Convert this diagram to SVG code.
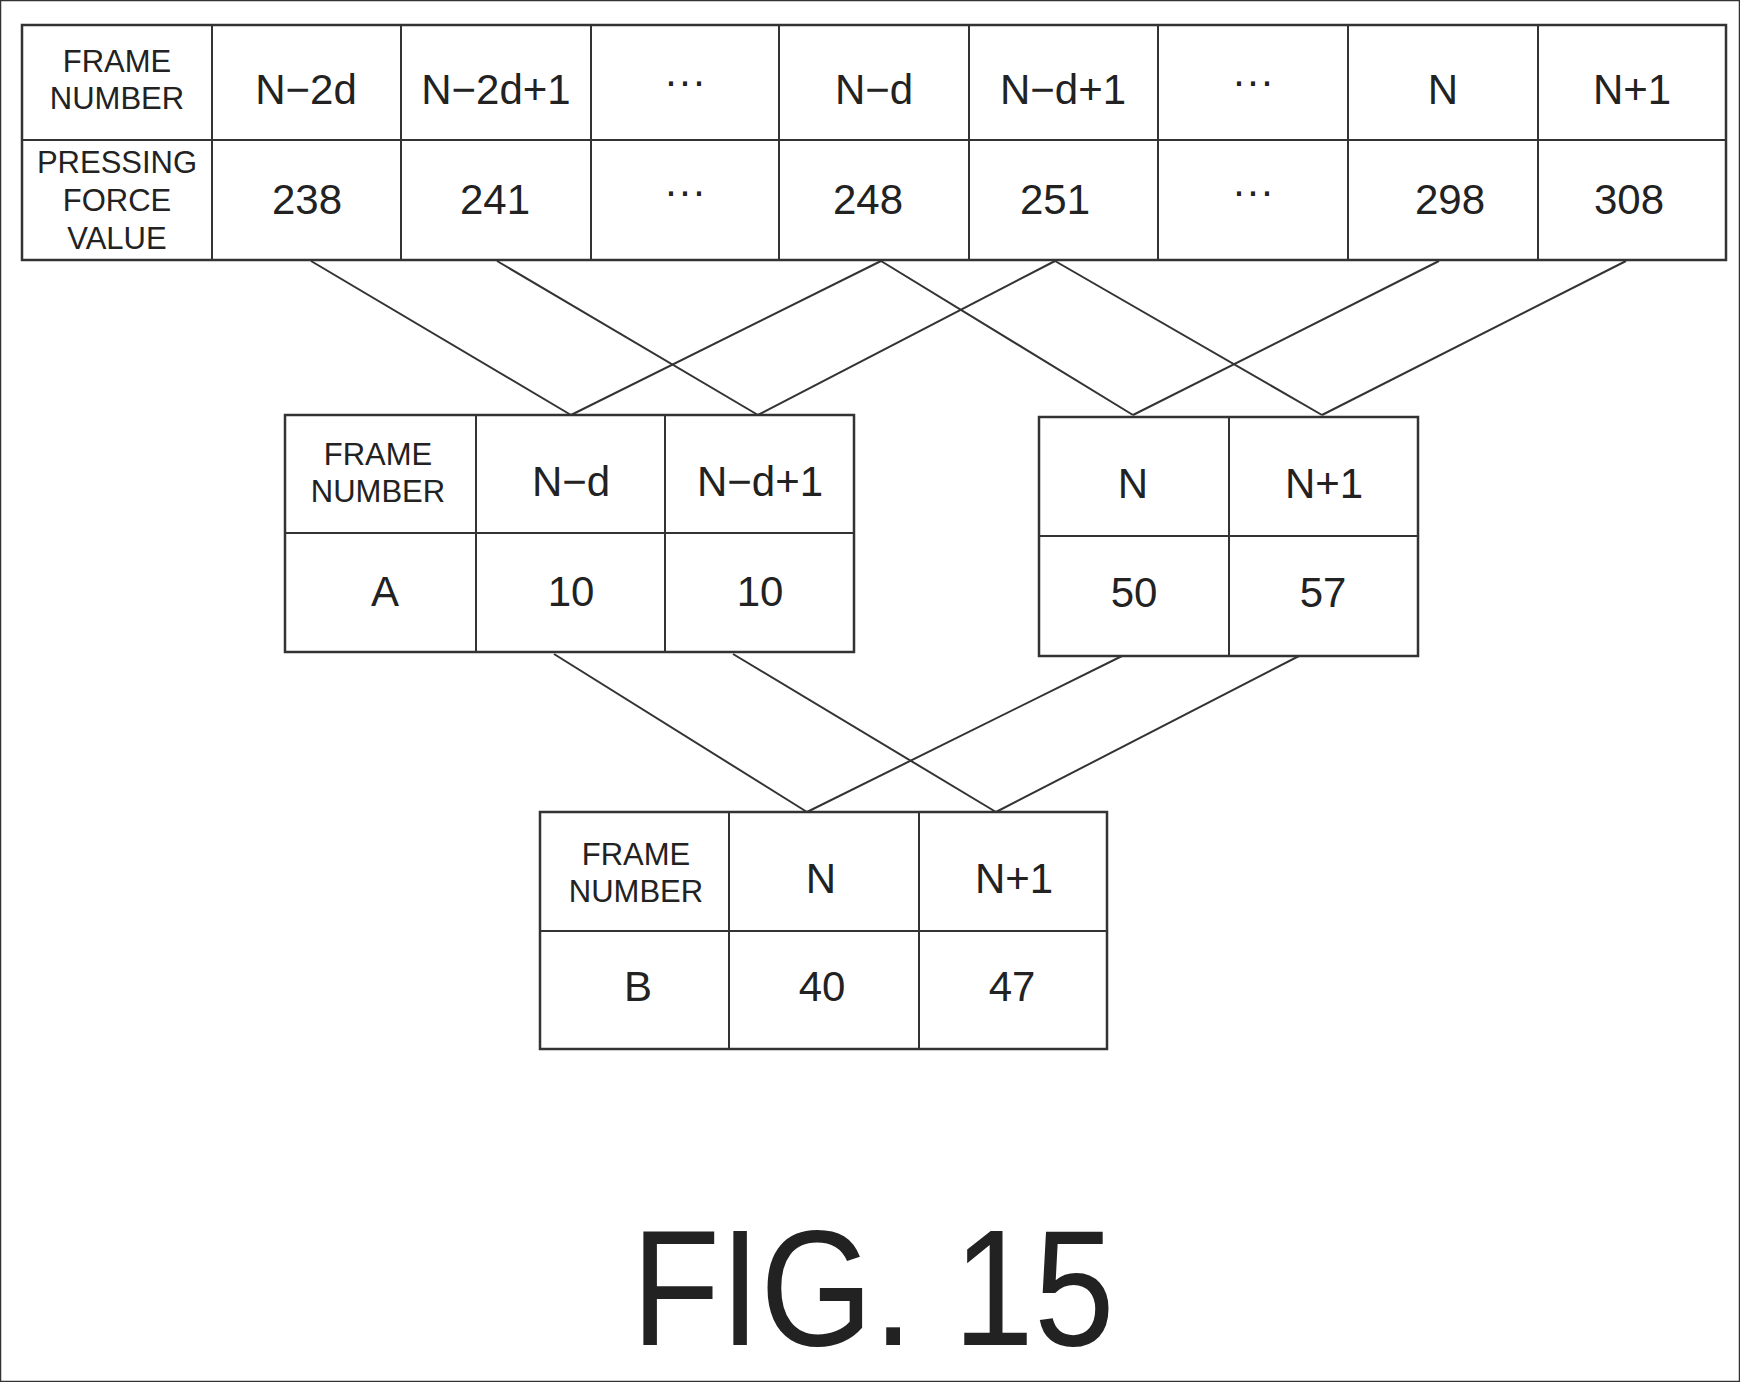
<svg xmlns="http://www.w3.org/2000/svg" width="1740" height="1382" viewBox="0 0 1740 1382">
<style>
rect,line.g{fill:none;stroke:#333;stroke-width:2.5}
line{stroke:#333;stroke-width:2}
text{font-family:"Liberation Sans",Arial,sans-serif;fill:#222;text-anchor:middle}
.v{font-size:42px}
.s{font-size:31px}
.f{font-size:165px}
</style>
<rect width="1740" height="1382" fill="#fff" stroke="none"/>
<g id="connectors">
<line x1="311" y1="261" x2="571" y2="415"/>
<line x1="497" y1="261" x2="758" y2="415"/>
<line x1="881" y1="261" x2="571" y2="415"/>
<line x1="881" y1="261" x2="1133" y2="415"/>
<line x1="1055" y1="261" x2="758" y2="415"/>
<line x1="1055" y1="261" x2="1322" y2="415"/>
<line x1="1439" y1="261" x2="1133" y2="415"/>
<line x1="1626" y1="261" x2="1322" y2="415"/>
<line x1="554" y1="654" x2="807" y2="812"/>
<line x1="733" y1="654" x2="996" y2="812"/>
<line x1="1122" y1="656" x2="807" y2="812"/>
<line x1="1299" y1="656" x2="996" y2="812"/>
</g>
<g id="top-table">
<rect x="22" y="25" width="1704" height="235"/>
<line x1="22" y1="140" x2="1726" y2="140"/>
<line x1="212" y1="25" x2="212" y2="260"/><line x1="401" y1="25" x2="401" y2="260"/>
<line x1="591" y1="25" x2="591" y2="260"/><line x1="779" y1="25" x2="779" y2="260"/>
<line x1="969" y1="25" x2="969" y2="260"/><line x1="1158" y1="25" x2="1158" y2="260"/>
<line x1="1348" y1="25" x2="1348" y2="260"/><line x1="1538" y1="25" x2="1538" y2="260"/>
<text class="s" x="117" y="72">FRAME</text><text class="s" x="117" y="109">NUMBER</text>
<text class="s" x="117" y="173">PRESSING</text><text class="s" x="117" y="211">FORCE</text><text class="s" x="117" y="249">VALUE</text>
<text class="v" x="306" y="104">N−2d</text><text class="v" x="496" y="104">N−2d+1</text><text class="v" x="685" y="95">···</text>
<text class="v" x="874" y="104">N−d</text><text class="v" x="1063" y="104">N−d+1</text><text class="v" x="1253" y="95">···</text>
<text class="v" x="1443" y="104">N</text><text class="v" x="1632" y="104">N+1</text>
<text class="v" x="307" y="214">238</text><text class="v" x="495" y="214">241</text><text class="v" x="685" y="205">···</text>
<text class="v" x="868" y="214">248</text><text class="v" x="1055" y="214">251</text><text class="v" x="1253" y="205">···</text>
<text class="v" x="1450" y="214">298</text><text class="v" x="1629" y="214">308</text>
</g>
<g id="table-a">
<rect x="285" y="415" width="569" height="237"/>
<line x1="285" y1="533" x2="854" y2="533"/>
<line x1="476" y1="415" x2="476" y2="652"/><line x1="665" y1="415" x2="665" y2="652"/>
<text class="s" x="378" y="465">FRAME</text><text class="s" x="378" y="502">NUMBER</text>
<text class="v" x="571" y="496">N−d</text><text class="v" x="760" y="496">N−d+1</text>
<text class="v" x="385" y="606">A</text><text class="v" x="571" y="606">10</text><text class="v" x="760" y="606">10</text>
</g>
<g id="table-n">
<rect x="1039" y="417" width="379" height="239"/>
<line x1="1039" y1="536" x2="1418" y2="536"/>
<line x1="1229" y1="417" x2="1229" y2="656"/>
<text class="v" x="1133" y="498">N</text><text class="v" x="1324" y="498">N+1</text>
<text class="v" x="1134" y="607">50</text><text class="v" x="1323" y="607">57</text>
</g>
<g id="table-b">
<rect x="540" y="812" width="567" height="237"/>
<line x1="540" y1="931" x2="1107" y2="931"/>
<line x1="729" y1="812" x2="729" y2="1049"/><line x1="919" y1="812" x2="919" y2="1049"/>
<text class="s" x="636" y="865">FRAME</text><text class="s" x="636" y="902">NUMBER</text>
<text class="v" x="821" y="893">N</text><text class="v" x="1014" y="893">N+1</text>
<text class="v" x="638" y="1001">B</text><text class="v" x="822" y="1001">40</text><text class="v" x="1012" y="1001">47</text>
</g>
<text class="f" x="873" y="1345" textLength="483" lengthAdjust="spacingAndGlyphs">FIG. 15</text>
</svg>
